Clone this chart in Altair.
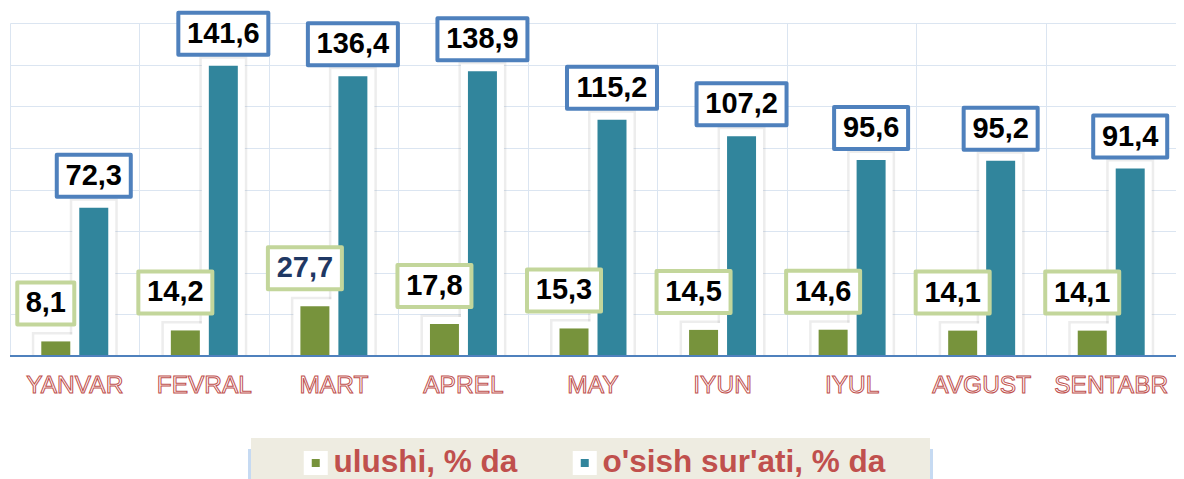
import altair as alt
import pandas as pd

# ---------------- data ----------------
months = ["YANVAR", "FEVRAL", "MART", "APREL", "MAY", "IYUN", "IYUL", "AVGUST", "SENTABR"]
ulushi = [8.1, 14.2, 27.7, 17.8, 15.3, 14.5, 14.6, 14.1, 14.1]
osish = [72.3, 141.6, 136.4, 138.9, 115.2, 107.2, 95.6, 95.2, 91.4]
series_names = ["ulushi, % da", "o'sish sur'ati, % da"]

# ---------------- style ----------------
GREEN = "#77933c"
TEAL = "#31859c"
GREEN_EDGE = "#c3d69b"
BLUE_EDGE = "#4f81bd"
GRID = "#dbe5f1"
RED = "#c0504d"
BEIGE = "#eeece1"
FONT = "Liberation Sans"

W, H = 1166, 333
BOTTOM = 123
TEAL_MAX = 162.4
GREEN_MAX = 185.0
grid_vals = [round(i * TEAL_MAX / 8, 2) for i in range(9)]

df = pd.DataFrame({
    "month": months * 2,
    "series": [series_names[0]] * len(months) + [series_names[1]] * len(months),
    "value": ulushi + osish,
})
month_df = pd.DataFrame({"month": months})

x_axis = alt.Axis(labels=False, ticks=False, title=None, domain=False,
                  grid=True, gridColor=GRID, gridWidth=1, bandPosition=0)
x_scale = alt.Scale(domain=months, paddingInner=0, paddingOuter=0)


def xe(band_pos=None):
    if band_pos is None:
        return alt.X("month:N", sort=months, scale=x_scale, axis=x_axis)
    return alt.X("month:N", sort=months, scale=x_scale, axis=x_axis, bandPosition=band_pos)


xoff = alt.XOffset("series:N", sort=series_names,
                   scale=alt.Scale(domain=series_names, paddingInner=0.2368, paddingOuter=0.8237))


def ye(maxv, axis=None):
    return alt.Y("value:Q", scale=alt.Scale(domain=[0, maxv], nice=False, zero=True), axis=axis)


base = alt.Chart(df)
green = base.transform_filter(alt.datum.series == series_names[0])
teal = base.transform_filter(alt.datum.series == series_names[1])

color = alt.Color(
    "series:N", sort=series_names,
    scale=alt.Scale(domain=series_names, range=[GREEN, TEAL]),
    legend=alt.Legend(
        title=None, orient="none", legendX=241, legendY=415, direction="horizontal",
        padding=9, symbolType="square", symbolSize=256, zindex=2,
        symbolStrokeColor="white", symbolStrokeWidth=8, symbolOpacity=1,
        symbolOffset=40, labelOffset=2, columnPadding=11,
        labelFont=FONT, labelFontSize=31.5, labelFontWeight="bold", labelColor=RED,
        labelLimit=0,
    ),
)

layers = []

# legend panel (background box with a soft blue edge glow)
layers.append(alt.Chart(month_df).mark_rect(fill="#c5d9f1", opacity=0.8).encode(
    x=alt.value(238), x2=alt.value(923), y=alt.value(426), y2=alt.value(H + BOTTOM)))
layers.append(alt.Chart(month_df).mark_rect(fill=BEIGE).encode(
    x=alt.value(241), x2=alt.value(920), y=alt.value(415), y2=alt.value(H + BOTTOM)))

# soft shadows and white halos behind bars
for sub, mx in ((green, GREEN_MAX), (teal, TEAL_MAX)):
    layers.append(sub.mark_bar(fill="white", stroke="#9a9a9a", strokeOpacity=0.18,
                               strokeWidth=19, clip=True)
                  .encode(x=xe(), xOffset=xoff, y=ye(mx)))
for sub, mx in ((green, GREEN_MAX), (teal, TEAL_MAX)):
    layers.append(sub.mark_bar(fill="white", stroke="white", strokeWidth=14, clip=True)
                  .encode(x=xe(), xOffset=xoff, y=ye(mx)))

# grid carrier + bars
layers.append(teal.mark_bar().encode(
    x=xe(), xOffset=xoff,
    y=ye(TEAL_MAX, alt.Axis(grid=True, gridColor=GRID, gridWidth=1, labels=False,
                            ticks=False, domain=False, title=None, values=grid_vals)),
    color=color))
layers.append(green.mark_bar().encode(x=xe(), xOffset=xoff, y=ye(GREEN_MAX), color=color))

# baseline
layers.append(alt.Chart(month_df).mark_rule(color="#4f81bd", strokeWidth=2).encode(
    y=alt.datum(0, scale=alt.Scale(domain=[0, TEAL_MAX], nice=False), axis=None)))

label_calc = dict(label="replace(format(datum.value, '.1f'), '.', ',')")
box_calc = dict(box=(
    "length(datum.label) >= 5 ? 'M-1,-0.4667H1V0.4667H-1Z' : "
    "length(datum.label) == 4 ? 'M-0.8222,-0.4667H0.8222V0.4667H-0.8222Z' : "
    "'M-0.6333,-0.4667H0.6333V0.4667H-0.6333Z'"))

# label boxes and texts
for sub, mx, edge, bp, dy in ((teal, TEAL_MAX, BLUE_EDGE, 0.6466, -32),
                              (green, GREEN_MAX, GREEN_EDGE, 0.2762, -38)):
    s = sub.transform_calculate(**label_calc).transform_calculate(**box_calc)
    layers.append(s.mark_point(filled=True, fill="white", stroke=edge, strokeWidth=4,
                               opacity=1, size=8100, yOffset=dy, strokeJoin="round")
                  .encode(x=xe(bp), y=ye(mx),
                          shape=alt.Shape("box:N", scale=None, legend=None)))
    txt_color = (alt.condition("datum.month == 'MART'", alt.value("#1f3864"), alt.value("black"))
                 if sub is green else alt.value("black"))
    layers.append(s.mark_text(font=FONT, fontSize=29, fontWeight="bold", baseline="middle",
                              align="center", yOffset=dy)
                  .encode(x=xe(bp), y=ye(mx), text="label:N", color=txt_color))

# outlined month labels
layers.append(alt.Chart(month_df).mark_text(
    font=FONT, fontSize=24.5, fill="white", stroke=RED, strokeWidth=1,
    baseline="alphabetic", align="center").encode(
    x=xe(0.5), y=alt.value(H + 37), text="month:N"))

chart = alt.layer(*layers).resolve_scale(y="independent").properties(
    width=W, height=H,
    padding={"left": 2, "top": 15, "right": 0, "bottom": BOTTOM},
    autosize=alt.AutoSizeParams(type="none"),
    background="white",
).configure_view(strokeWidth=0)

chart.save("out.html", embed_options={"renderer": "svg", "actions": False})
